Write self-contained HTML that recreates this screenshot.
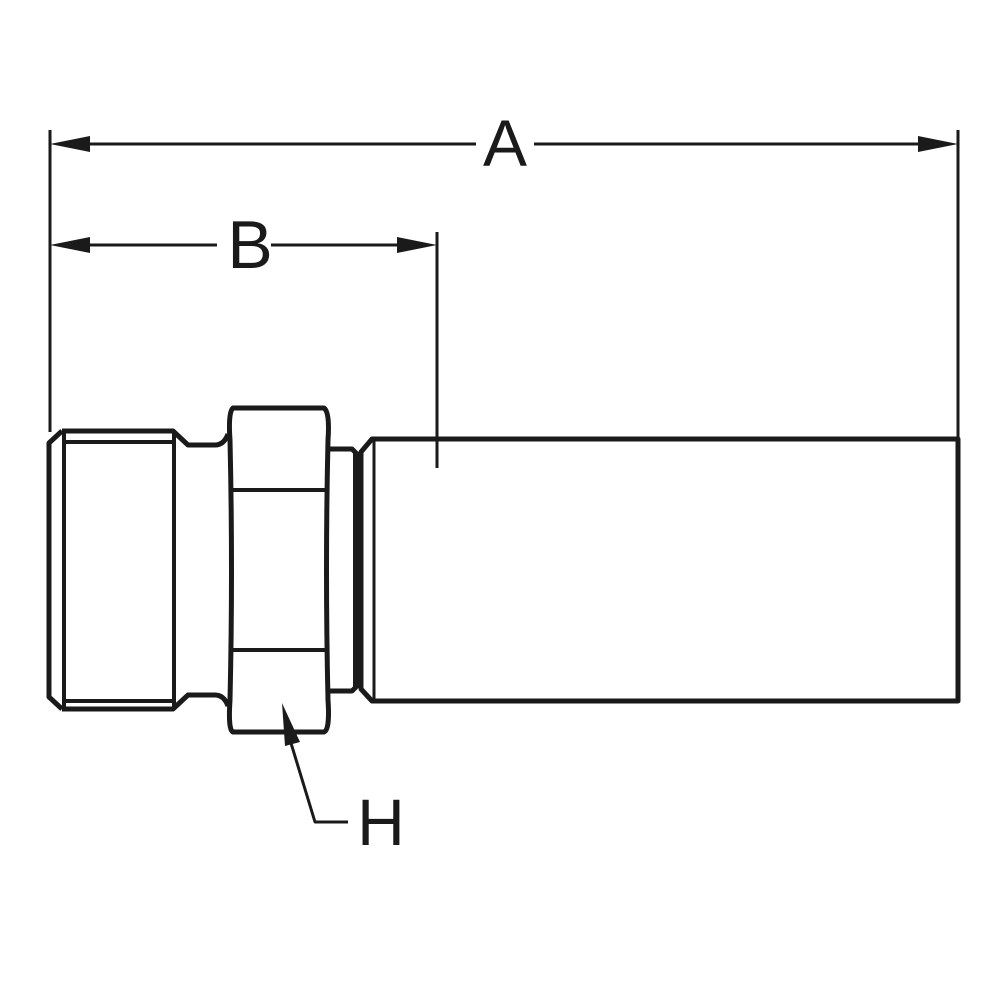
<!DOCTYPE html>
<html><head><meta charset="utf-8"><style>html,body{margin:0;padding:0;background:#fff}svg{display:block}</style></head>
<body>
<svg width="1000" height="1000" viewBox="0 0 1000 1000" xmlns="http://www.w3.org/2000/svg">
<g stroke="#1a1a1a" fill="none" stroke-linejoin="round">
<!-- extension lines -->
<line x1="50" y1="130" x2="50" y2="432" stroke-width="3"/>
<line x1="958" y1="130" x2="958" y2="440" stroke-width="3"/>
<line x1="437" y1="232" x2="437" y2="468" stroke-width="3"/>
<!-- A dim -->
<line x1="85" y1="144" x2="476" y2="144" stroke-width="3"/>
<line x1="534" y1="144" x2="922" y2="144" stroke-width="3"/>
<!-- B dim -->
<line x1="85" y1="245" x2="217" y2="245" stroke-width="3"/>
<line x1="271" y1="245" x2="402" y2="245" stroke-width="3"/>
<!-- thread -->
<path d="M62,431 L173,431 L188,445 L215,445 Q224,445 228,434" stroke-width="5"/>
<path d="M62,709 L173,709 L188,695 L215,695 Q224,695 228,706" stroke-width="5"/>
<path d="M62,431 L49,443 L49,697 L62,709" stroke-width="5"/>
<line x1="64" y1="431" x2="64" y2="709" stroke-width="4"/>
<line x1="64" y1="442" x2="174" y2="442" stroke-width="4"/>
<line x1="64" y1="701" x2="174" y2="701" stroke-width="4"/>
<line x1="174" y1="431" x2="174" y2="709" stroke-width="4"/>
<!-- hex -->
<path d="M233,408 L324,408 Q330,412 328,440 Q325,570 328,700 Q330,730 324,732 L233,732 Q228,730 230,700 Q233,570 230,440 Q228,412 233,408 Z" stroke-width="5"/>
<line x1="231" y1="490" x2="326" y2="490" stroke-width="4"/>
<line x1="231" y1="650" x2="326" y2="650" stroke-width="4"/>
<!-- collar -->
<path d="M328,449 L352,449 L356,453 L356,687 L352,691 L328,691" stroke-width="5"/>
<line x1="356" y1="452" x2="356" y2="688" stroke-width="6"/>
<!-- ferrule -->
<path d="M372,439 L958,439 L958,701 L372,701 L361,689 L361,452 Z" stroke-width="5"/>
<line x1="374" y1="440" x2="374" y2="700" stroke-width="3"/>
<!-- leader H -->
<polyline points="287,730 315,822 348,822" stroke-width="3"/>
</g>
<g fill="#1a1a1a">
<polygon points="50,144 90,136 90,152"/>
<polygon points="958,144 918,136 918,152"/>
<polygon points="50,245 90,237 90,253"/>
<polygon points="437,245 397,237 397,253"/>
<polygon points="282,703 300,742 285,746"/>
</g>
<g font-family="Liberation Sans, sans-serif" fill="#1a1a1a" text-anchor="middle">
<text x="505" y="166" font-size="66">A</text>
<text x="250" y="268" font-size="68">B</text>
<text x="381" y="845" font-size="66">H</text>
</g>
</svg>
</body></html>
